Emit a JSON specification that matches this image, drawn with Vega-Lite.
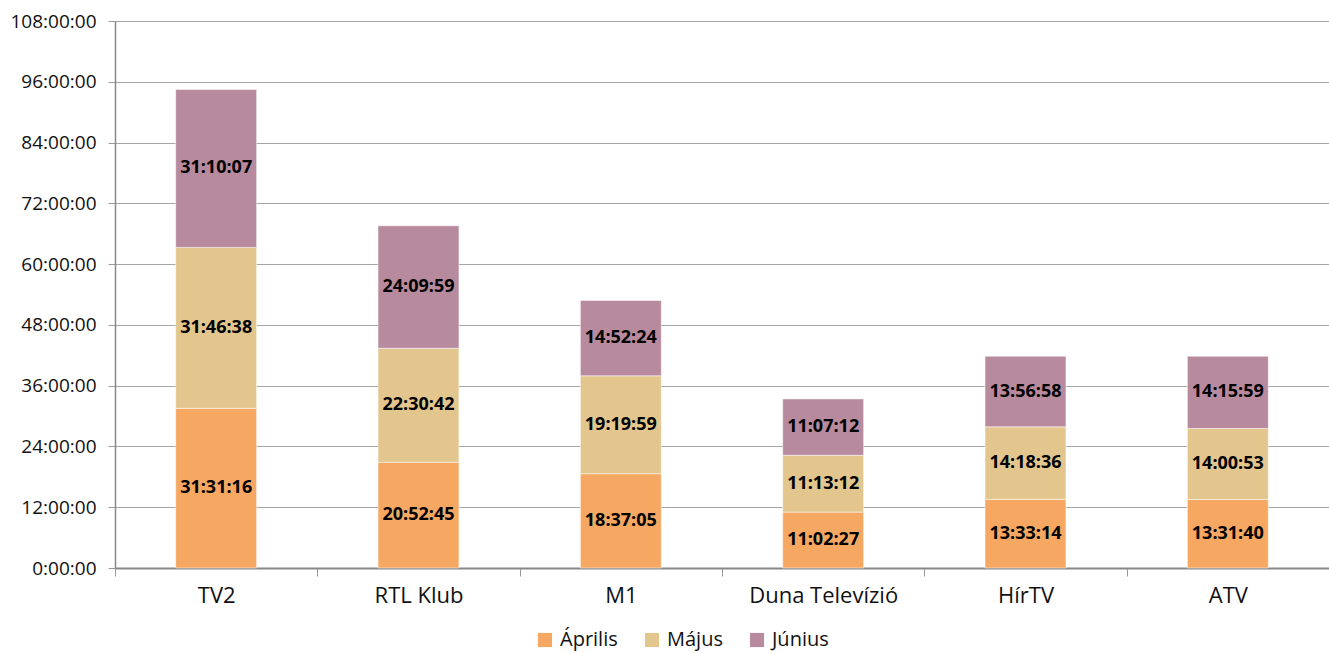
{
  "$schema": "https://vega.github.io/schema/vega-lite/v6.json",
  "autosize": "none",
  "width": 1214,
  "height": 547,
  "padding": {"left": 115, "top": 21, "right": 0, "bottom": 86},
  "background": "white",
  "config": {
    "view": {"stroke": null},
    "font": "Open Sans",
    "axis": {"labelFont": "Open Sans", "labelColor": "#111", "title": null}
  },
  "data": {
    "values": [
      {"channel": "TV2", "month": "Április", "m": 1, "sec": 113476, "label": "31:31:16"},
      {"channel": "TV2", "month": "Május", "m": 2, "sec": 114398, "label": "31:46:38"},
      {"channel": "TV2", "month": "Június", "m": 3, "sec": 112207, "label": "31:10:07"},
      {"channel": "RTL Klub", "month": "Április", "m": 1, "sec": 75165, "label": "20:52:45"},
      {"channel": "RTL Klub", "month": "Május", "m": 2, "sec": 81042, "label": "22:30:42"},
      {"channel": "RTL Klub", "month": "Június", "m": 3, "sec": 86999, "label": "24:09:59"},
      {"channel": "M1", "month": "Április", "m": 1, "sec": 67025, "label": "18:37:05"},
      {"channel": "M1", "month": "Május", "m": 2, "sec": 69599, "label": "19:19:59"},
      {"channel": "M1", "month": "Június", "m": 3, "sec": 53544, "label": "14:52:24"},
      {"channel": "Duna Televízió", "month": "Április", "m": 1, "sec": 39747, "label": "11:02:27"},
      {"channel": "Duna Televízió", "month": "Május", "m": 2, "sec": 40392, "label": "11:13:12"},
      {"channel": "Duna Televízió", "month": "Június", "m": 3, "sec": 40032, "label": "11:07:12"},
      {"channel": "HírTV", "month": "Április", "m": 1, "sec": 48794, "label": "13:33:14"},
      {"channel": "HírTV", "month": "Május", "m": 2, "sec": 51516, "label": "14:18:36"},
      {"channel": "HírTV", "month": "Június", "m": 3, "sec": 50218, "label": "13:56:58"},
      {"channel": "ATV", "month": "Április", "m": 1, "sec": 48700, "label": "13:31:40"},
      {"channel": "ATV", "month": "Május", "m": 2, "sec": 50453, "label": "14:00:53"},
      {"channel": "ATV", "month": "Június", "m": 3, "sec": 51359, "label": "14:15:59"}
    ]
  },
  "transform": [
    {"stack": "sec", "groupby": ["channel"], "sort": [{"field": "m", "order": "ascending"}], "as": ["s0", "s1"]},
    {"calculate": "(datum.s0 + datum.s1) / 2", "as": "mid"}
  ],
  "encoding": {
    "x": {
      "field": "channel",
      "type": "nominal",
      "sort": ["TV2", "RTL Klub", "M1", "Duna Televízió", "HírTV", "ATV"],
      "scale": {"paddingInner": 0, "paddingOuter": 0},
      "axis": {
        "labelAngle": 0,
        "labelFontSize": 22,
        "labelPadding": 9,
        "tickBand": "extent",
        "tickSize": 8,
        "tickColor": "#999",
        "domainColor": "#888",
        "domainWidth": 2,
        "grid": false
      }
    }
  },
  "layer": [
    {
      "mark": {"type": "bar", "width": {"band": 0.4}, "stroke": "white", "strokeWidth": 0.5},
      "encoding": {
        "y": {
          "field": "s0",
          "type": "quantitative",
          "scale": {"domain": [0, 388800], "nice": false},
          "axis": {
            "values": [0, 43200, 86400, 129600, 172800, 216000, 259200, 302400, 345600, 388800],
            "labelExpr": "floor(datum.value / 3600) + ':00:00'",
            "labelFontSize": 19,
            "labelPadding": 12,
            "tickSize": 7,
            "tickColor": "#999",
            "domainColor": "#888",
            "domainWidth": 1.5,
            "grid": true,
            "gridColor": "#a6a6a6",
            "gridWidth": 1
          }
        },
        "y2": {"field": "s1"},
        "color": {
          "field": "month",
          "type": "nominal",
          "scale": {"domain": ["Április", "Május", "Június"], "range": ["#F6A862", "#E3C68E", "#B88A9E"]},
          "legend": {
            "title": null,
            "orient": "none",
            "direction": "horizontal",
            "legendX": 420,
            "legendY": 609,
            "symbolType": "square",
            "symbolSize": 200,
            "symbolStrokeWidth": 0,
            "labelFont": "Open Sans",
            "labelFontSize": 20,
            "labelColor": "#111",
            "columnPadding": 24,
            "labelOffset": 5
          }
        }
      }
    },
    {
      "mark": {"type": "text", "fontWeight": "bold", "fontSize": 18, "color": "#000", "baseline": "middle"},
      "encoding": {
        "y": {"field": "mid", "type": "quantitative"},
        "text": {"field": "label"}
      }
    }
  ]
}
